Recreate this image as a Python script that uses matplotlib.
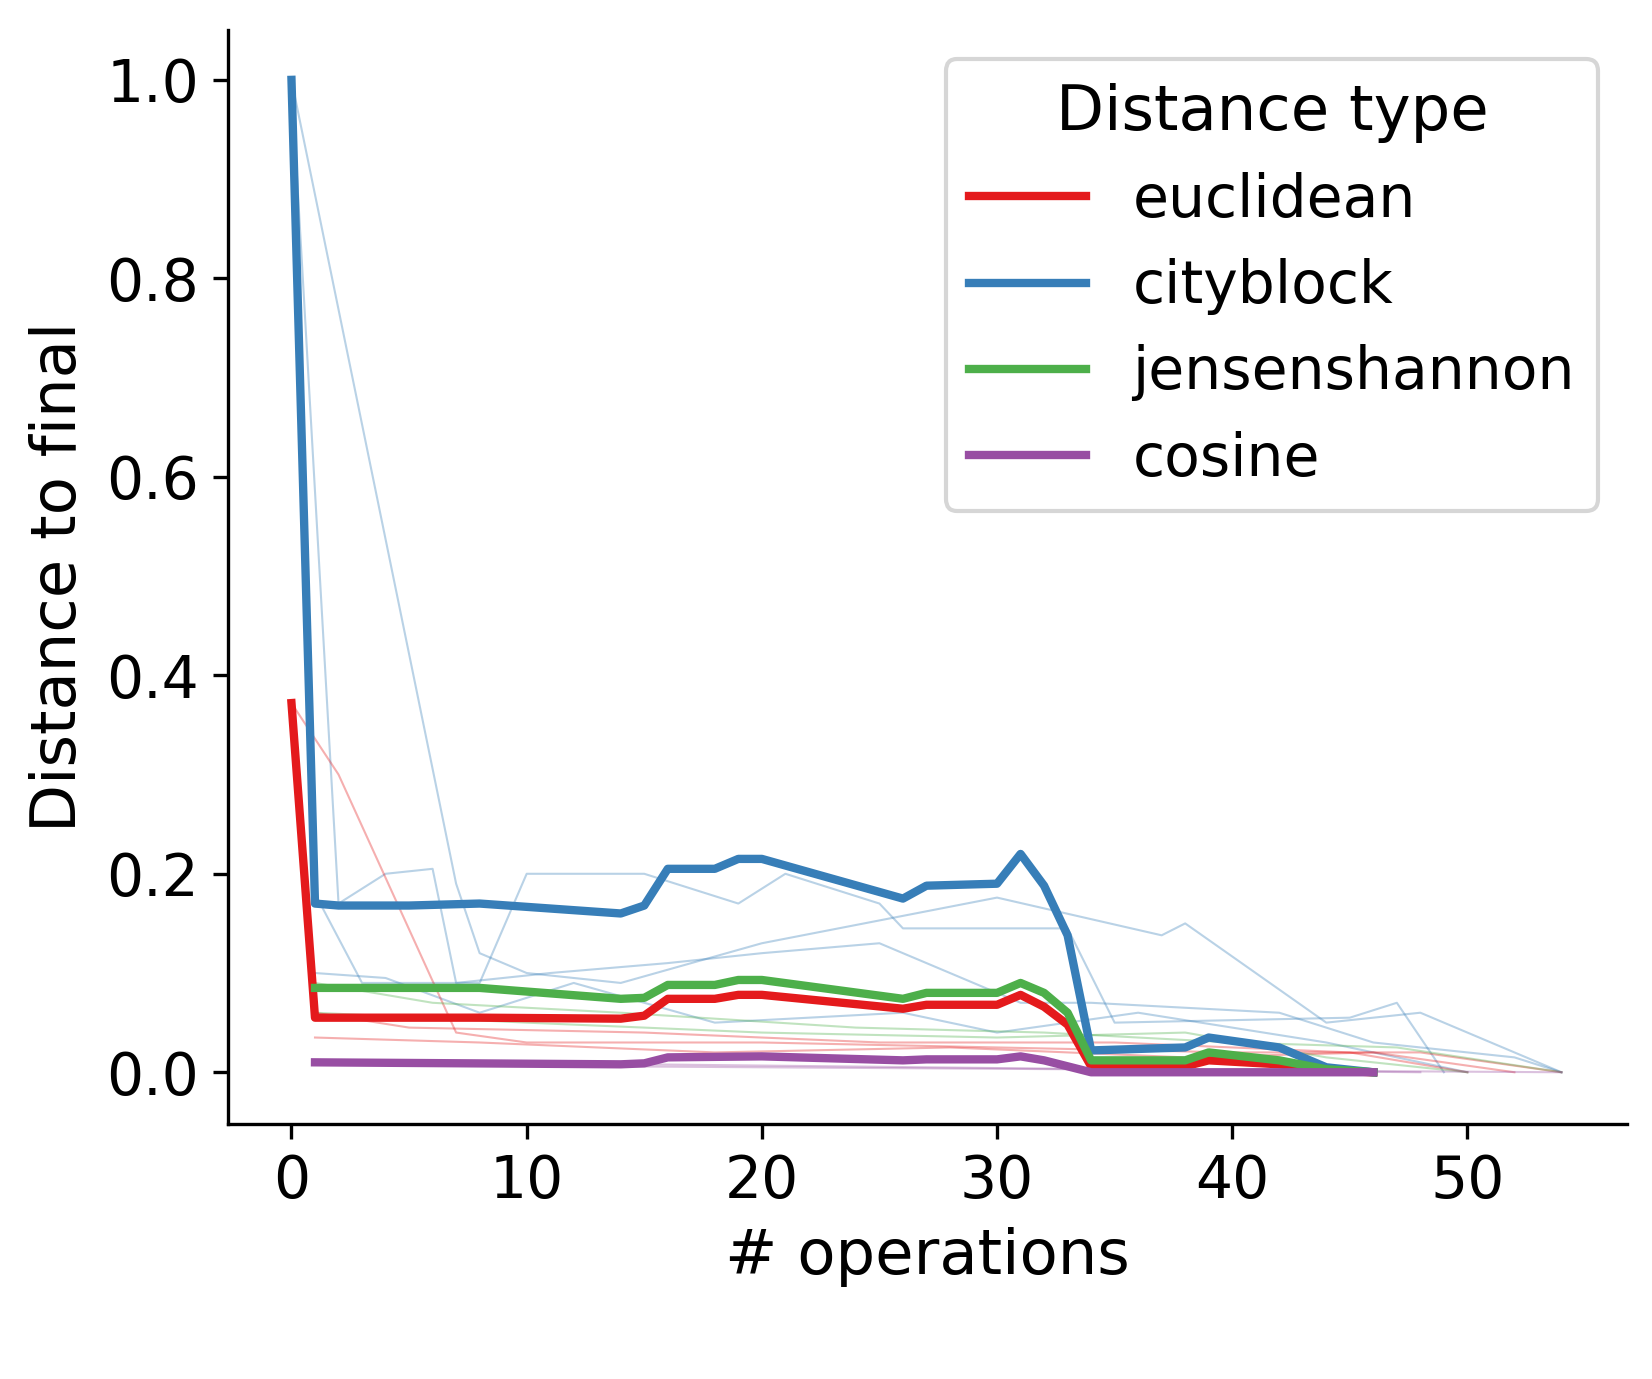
import matplotlib
matplotlib.use("Agg")
import matplotlib.pyplot as plt

COLORS = {"euclidean": "#e41a1c", "cityblock": "#377eb8",
          "jensenshannon": "#4daf4a", "cosine": "#984ea3"}

# mean curves
cb_x = [0, 1, 2, 5, 8, 14, 15, 16, 18, 19, 20, 26, 27, 30, 31, 32, 33, 34, 38, 39, 42, 44, 46]
cb_y = [1.0, 0.17, 0.168, 0.168, 0.17, 0.16, 0.168, 0.205, 0.205, 0.215, 0.215, 0.175, 0.188, 0.19, 0.22, 0.188, 0.138, 0.022, 0.025, 0.035, 0.025, 0.005, 0.0]
eu_x = [0, 1, 8, 14, 15, 16, 18, 19, 20, 26, 27, 30, 31, 32, 33, 34, 38, 39, 42, 44, 46]
eu_y = [0.372, 0.055, 0.055, 0.054, 0.057, 0.074, 0.074, 0.078, 0.078, 0.064, 0.068, 0.068, 0.078, 0.066, 0.048, 0.006, 0.006, 0.012, 0.008, 0.002, 0.0]
js_x = [1, 8, 14, 15, 16, 18, 19, 20, 26, 27, 30, 31, 32, 33, 34, 38, 39, 42, 44, 46]
js_y = [0.085, 0.085, 0.074, 0.075, 0.088, 0.088, 0.093, 0.093, 0.074, 0.08, 0.08, 0.09, 0.08, 0.06, 0.012, 0.012, 0.02, 0.012, 0.003, 0.0]
co_x = [1, 14, 15, 16, 20, 26, 27, 30, 31, 32, 33, 34, 46]
co_y = [0.01, 0.008, 0.009, 0.015, 0.016, 0.012, 0.013, 0.013, 0.016, 0.012, 0.006, 0.0, 0.0]

# individual runs (thin lines)
cb_runs = [
    ([0, 7, 8, 10, 14, 20, 30, 37, 38, 41, 44, 48, 54], [1.0, 0.19, 0.12, 0.1, 0.09, 0.13, 0.176, 0.138, 0.15, 0.1, 0.05, 0.06, 0.0]),
    ([0, 2, 4, 6, 7, 11, 16, 20, 25, 31, 34, 42, 46, 52, 54], [1.0, 0.17, 0.2, 0.205, 0.09, 0.1, 0.11, 0.12, 0.13, 0.07, 0.07, 0.06, 0.03, 0.015, 0.0]),
    ([1, 3, 8, 10, 15, 19, 21, 25, 26, 33, 35, 45, 47, 49], [0.18, 0.09, 0.09, 0.2, 0.2, 0.17, 0.2, 0.17, 0.145, 0.145, 0.05, 0.055, 0.07, 0.0]),
    ([1, 4, 8, 12, 18, 26, 30, 36, 44, 50], [0.1, 0.095, 0.06, 0.09, 0.05, 0.06, 0.04, 0.06, 0.03, 0.0]),
]
eu_runs = [
    ([0, 2, 7, 10, 20, 30, 40, 48, 54], [0.372, 0.3, 0.04, 0.03, 0.03, 0.025, 0.02, 0.02, 0.0]),
    ([1, 5, 15, 25, 35, 45, 50], [0.06, 0.045, 0.04, 0.03, 0.03, 0.02, 0.0]),
    ([1, 8, 18, 28, 38, 46, 52], [0.035, 0.03, 0.02, 0.025, 0.015, 0.02, 0.0]),
]
js_runs = [
    ([1, 6, 14, 24, 32, 40, 47, 54], [0.09, 0.07, 0.06, 0.045, 0.04, 0.03, 0.025, 0.0]),
    ([1, 10, 20, 30, 38, 44, 50], [0.06, 0.05, 0.04, 0.035, 0.04, 0.015, 0.0]),
]
co_runs = [
    ([1, 20, 40, 54], [0.008, 0.005, 0.002, 0.0]),
    ([1, 15, 35, 48], [0.012, 0.008, 0.003, 0.0]),
]

fig, ax = plt.subplots(figsize=(5.507, 4.597), dpi=300)
for runs, name in [(cb_runs, "cityblock"), (eu_runs, "euclidean"), (js_runs, "jensenshannon"), (co_runs, "cosine")]:
    for rx, ry in runs:
        ax.plot(rx, ry, color=COLORS[name], lw=0.5, alpha=0.35)

ax.plot(eu_x, eu_y, color=COLORS["euclidean"], lw=2, label="euclidean")
ax.plot(cb_x, cb_y, color=COLORS["cityblock"], lw=2, label="cityblock")
ax.plot(js_x, js_y, color=COLORS["jensenshannon"], lw=2, label="jensenshannon")
ax.plot(co_x, co_y, color=COLORS["cosine"], lw=2, label="cosine")

ax.set_xlim(-2.7, 56.8)
ax.set_ylim(-0.052, 1.05)
ax.set_xticks([0, 10, 20, 30, 40, 50])
ax.set_yticks([0.0, 0.2, 0.4, 0.6, 0.8, 1.0])
ax.tick_params(labelsize=14)
ax.set_xlabel("# operations", fontsize=15)
ax.set_ylabel("Distance to final", fontsize=15)
ax.spines["top"].set_visible(False)
ax.spines["right"].set_visible(False)
ax.legend(title="Distance type", fontsize=14, title_fontsize=15, loc="upper right")
fig.subplots_adjust(left=0.138, right=0.985, bottom=0.185, top=0.978)
fig.savefig("out.png", dpi=300)
